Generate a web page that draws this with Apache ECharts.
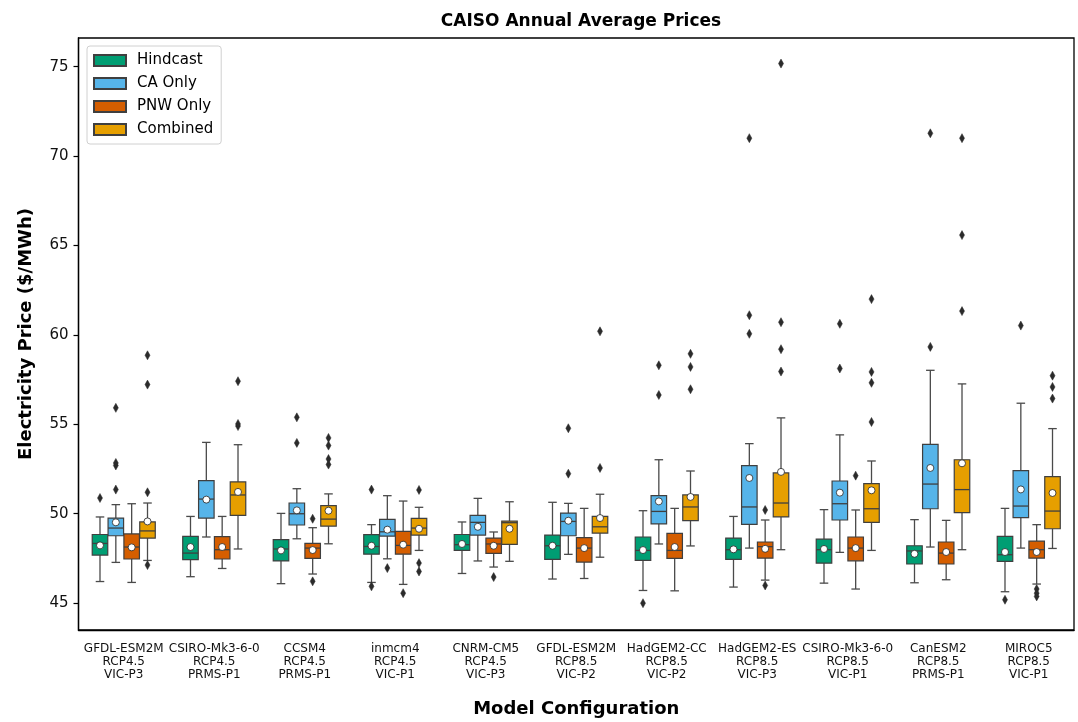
<!DOCTYPE html>
<html>
<head>
<meta charset="utf-8">
<script src="https://cdn.jsdelivr.net/npm/echarts@6/dist/echarts.min.js"></script>
<style>
html,body{margin:0;padding:0;background:#fff;}
#chart{width:1078px;height:722px;}
</style>
</head>
<body>
<div id="chart"></div>
<script>
// ---------------- DATA ----------------
const categories = [
  'GFDL-ESM2M\nRCP4.5\nVIC-P3', 'CSIRO-Mk3-6-0\nRCP4.5\nPRMS-P1', 'CCSM4\nRCP4.5\nPRMS-P1',
  'inmcm4\nRCP4.5\nVIC-P1', 'CNRM-CM5\nRCP4.5\nVIC-P3', 'GFDL-ESM2M\nRCP8.5\nVIC-P2',
  'HadGEM2-CC\nRCP8.5\nVIC-P2', 'HadGEM2-ES\nRCP8.5\nVIC-P3', 'CSIRO-Mk3-6-0\nRCP8.5\nVIC-P1',
  'CanESM2\nRCP8.5\nPRMS-P1', 'MIROC5\nRCP8.5\nVIC-P1'
];
const seriesNames = ['Hindcast', 'CA Only', 'PNW Only', 'Combined'];
const yTicks = [45, 50, 55, 60, 65, 70, 75];

// [lower whisker, Q1, median, Q3, upper whisker]
const hindcastStats = [
  [46.21, 47.69, 48.34, 48.84, 49.82], [46.48, 47.43, 47.80, 48.73, 49.85], [46.09, 47.36, 48.03, 48.55, 50.02],
  [46.16, 47.74, 48.17, 48.83, 49.39], [46.66, 47.95, 48.27, 48.84, 49.54], [46.35, 47.45, 48.21, 48.81, 50.64],
  [45.71, 47.39, 47.95, 48.70, 50.17], [45.90, 47.45, 47.99, 48.64, 49.85], [46.12, 47.24, 47.99, 48.58, 50.23],
  [46.14, 47.19, 47.92, 48.21, 49.67], [45.64, 47.34, 47.71, 48.73, 50.30]
];
const hindcastMeans = [48.23, 48.14, 47.95, 48.21, 48.31, 48.21, 47.97, 48.01, 48.03, 47.76, 47.86];
const hindcastOutliers = [[0, 50.88], [3, 51.35], [3, 45.94], [6, 45.0], [10, 45.19]];

const caStats = [
  [47.28, 48.77, 49.20, 49.76, 50.51], [48.70, 49.76, 50.82, 51.85, 53.99], [48.60, 49.37, 50.00, 50.60, 51.40],
  [47.48, 48.75, 48.99, 49.69, 51.01], [47.36, 48.81, 49.52, 49.91, 50.86], [47.73, 48.77, 49.57, 50.04, 50.58],
  [48.31, 49.43, 50.13, 51.01, 53.02], [48.08, 49.41, 50.38, 52.69, 53.92], [47.84, 49.65, 50.56, 51.83, 54.41],
  [48.14, 50.28, 51.66, 53.88, 58.02], [48.08, 49.78, 50.43, 52.41, 56.18]
];
const caMeans = [49.52, 50.79, 50.19, 49.11, 49.27, 49.61, 50.69, 52.00, 51.18, 52.56, 51.36];
const caOutliers = [[0, 51.35], [0, 52.70], [0, 52.84], [0, 55.92], [2, 53.96], [2, 55.39], [3, 46.96],
  [5, 52.24], [5, 54.78], [6, 56.64], [6, 58.30], [7, 60.06], [7, 61.10], [7, 71.00],
  [8, 58.12], [8, 60.62], [9, 59.33], [9, 71.27], [10, 60.52]];

const pnwStats = [
  [46.16, 47.47, 48.14, 48.87, 50.56], [46.94, 47.47, 47.99, 48.72, 49.85], [46.63, 47.50, 48.08, 48.34, 49.22],
  [46.05, 47.74, 48.23, 49.01, 50.71], [47.02, 47.78, 48.31, 48.64, 48.98], [46.38, 47.30, 48.08, 48.66, 50.30],
  [45.69, 47.50, 47.95, 48.90, 50.30], [46.29, 47.52, 48.16, 48.42, 49.65], [45.79, 47.37, 48.08, 48.70, 50.21],
  [46.31, 47.19, 47.80, 48.42, 49.63], [46.07, 47.52, 47.99, 48.47, 49.39]
];
const pnwMeans = [48.12, 48.14, 47.97, 48.27, 48.21, 48.08, 48.14, 48.04, 48.08, 47.86, 47.86];
const pnwOutliers = [[2, 49.72], [2, 46.22], [3, 45.56], [4, 46.46], [7, 50.21], [7, 45.99], [8, 52.13],
  [10, 45.79], [10, 45.56], [10, 45.38]];

const combinedStats = [
  [47.39, 48.64, 49.04, 49.54, 50.60], [48.03, 49.91, 51.05, 51.78, 53.86], [48.32, 49.31, 49.70, 50.45, 51.11],
  [47.95, 48.81, 49.20, 49.74, 50.36], [47.34, 48.29, 49.50, 49.59, 50.67], [47.57, 48.92, 49.27, 49.85, 51.09],
  [48.20, 49.61, 50.38, 51.05, 52.39], [47.99, 49.82, 50.60, 52.28, 55.36], [47.95, 49.52, 50.28, 51.68, 52.95],
  [47.99, 50.06, 51.35, 53.02, 57.26], [48.06, 49.16, 50.15, 52.07, 54.76]
];
const combinedMeans = [49.57, 51.22, 50.17, 49.16, 49.16, 49.76, 50.94, 52.34, 51.31, 52.82, 51.16];
const combinedOutliers = [[0, 51.20], [0, 57.22], [0, 58.86], [0, 47.13], [1, 54.90], [1, 55.02], [1, 57.41],
  [2, 52.75], [2, 53.06], [2, 53.81], [2, 54.24], [3, 51.33], [3, 47.24], [3, 46.77],
  [5, 52.56], [5, 60.20], [6, 56.96], [6, 58.21], [6, 58.94], [7, 57.95], [7, 59.20], [7, 60.71], [7, 75.17],
  [8, 55.13], [8, 57.32], [8, 57.93], [8, 62.00], [9, 61.33], [9, 65.58], [9, 71.00],
  [10, 56.44], [10, 57.09], [10, 57.72]];

// ---------------- STYLE ----------------
const colors = ['#009E73', '#56B4E9', '#D55E00', '#E69F00'];
const edgeColor = '#3f3f3f';
const FONT = 'DejaVu Sans';

const statsList = [hindcastStats, caStats, pnwStats, combinedStats];
const meansList = [hindcastMeans, caMeans, pnwMeans, combinedMeans];
const outlierList = [hindcastOutliers, caOutliers, pnwOutliers, combinedOutliers];

function groupOffset(k, band) {
  const step = band * 0.7 / 4;
  return { off: (k - 1.5) * step, step: step };
}

function makeBoxRender(k) {
  return function (params, api) {
    const ci = api.value(0);
    const band = api.size([1, 0])[0];
    const g = groupOffset(k, band);
    const cx = api.coord([ci, 0])[0] + g.off;
    const yLo = api.coord([ci, api.value(1)])[1];
    const yQ1 = api.coord([ci, api.value(2)])[1];
    const yMed = api.coord([ci, api.value(3)])[1];
    const yQ3 = api.coord([ci, api.value(4)])[1];
    const yHi = api.coord([ci, api.value(5)])[1];
    const yMean = api.coord([ci, api.value(6)])[1];
    const half = g.step * 0.98 / 2;
    const cap = g.step * 0.27;
    const lineStyle = { stroke: '#4a4a4a', lineWidth: 1.3 };
    return {
      type: 'group',
      children: [
        { type: 'line', shape: { x1: cx, y1: yLo, x2: cx, y2: yQ1 }, style: lineStyle },
        { type: 'line', shape: { x1: cx, y1: yQ3, x2: cx, y2: yHi }, style: lineStyle },
        { type: 'line', shape: { x1: cx - cap, y1: yLo, x2: cx + cap, y2: yLo }, style: lineStyle },
        { type: 'line', shape: { x1: cx - cap, y1: yHi, x2: cx + cap, y2: yHi }, style: lineStyle },
        { type: 'rect', shape: { x: cx - half, y: yQ3, width: half * 2, height: yQ1 - yQ3 },
          style: { fill: colors[k], stroke: edgeColor, lineWidth: 1.2 } },
        { type: 'line', shape: { x1: cx - half, y1: yMed, x2: cx + half, y2: yMed }, style: { stroke: edgeColor, lineWidth: 1.3 } },
        { type: 'circle', shape: { cx: cx, cy: yMean, r: 3.5 },
          style: { fill: '#ffffff', stroke: '#222', lineWidth: 0.8 } }
      ]
    };
  };
}

function makeOutlierRender(k) {
  return function (params, api) {
    const ci = api.value(0);
    const band = api.size([1, 0])[0];
    const g = groupOffset(k, band);
    const p = api.coord([ci, api.value(1)]);
    const cx = p[0] + g.off, cy = p[1];
    const w = 2.5, h = 4.5;
    return {
      type: 'polygon',
      shape: { points: [[cx, cy - h], [cx + w, cy], [cx, cy + h], [cx - w, cy]] },
      style: { fill: '#2b2b2b', stroke: '#2b2b2b', lineWidth: 0.5 }
    };
  };
}

const series = [];
seriesNames.forEach(function (name, k) {
  const data = statsList[k].map(function (s, i) {
    return [i, s[0], s[1], s[2], s[3], s[4], meansList[k][i]];
  });
  series.push({
    name: name,
    type: 'custom',
    renderItem: makeBoxRender(k),
    itemStyle: { color: colors[k], borderColor: edgeColor, borderWidth: 1 },
    encode: { x: 0, y: [1, 2, 3, 4, 5, 6] },
    data: data,
    z: 3
  });
});
seriesNames.forEach(function (name, k) {
  series.push({
    name: name + ' outliers',
    type: 'custom',
    renderItem: makeOutlierRender(k),
    encode: { x: 0, y: 1 },
    data: outlierList[k],
    z: 4
  });
});

const chart = echarts.init(document.getElementById('chart'), null, { renderer: 'canvas' });
chart.setOption({
  animation: false,
  backgroundColor: '#ffffff',
  textStyle: { fontFamily: FONT },
  title: {
    text: 'CAISO Annual Average Prices',
    left: 576, top: 8, textAlign: 'center',
    textStyle: { fontFamily: FONT, fontWeight: 'bold', fontSize: 17, color: '#000' }
  },
  legend: {
    data: seriesNames,
    orient: 'vertical',
    left: 87, top: 46,
    icon: 'rect',
    itemWidth: 32, itemHeight: 11,
    itemGap: 6,
    padding: [6, 8, 6, 6],
    backgroundColor: '#fff',
    borderColor: '#d0d0d0', borderWidth: 1, borderRadius: 3,
    textStyle: { fontFamily: FONT, fontSize: 15, color: '#000', lineHeight: 17, padding: [0, 0, 0, 6] }
  },
  grid: {
    left: 78.5, right: 4, top: 38, bottom: 92,
    containLabel: false,
    outerBoundsMode: 'none',
    show: true, borderColor: '#000', borderWidth: 1.3, backgroundColor: 'transparent'
  },
  xAxis: {
    type: 'category',
    data: categories,
    name: 'Model Configuration',
    nameLocation: 'middle',
    nameGap: 70,
    nameTextStyle: { fontFamily: FONT, fontWeight: 'bold', fontSize: 18, color: '#000' },
    axisLine: { lineStyle: { color: '#000', width: 1.3 } },
    axisTick: { alignWithLabel: true, length: 5, lineStyle: { color: '#000', width: 1.2 } },
    axisLabel: { fontFamily: FONT, fontSize: 12, lineHeight: 13, color: '#111', margin: 12, interval: 0 },
    splitLine: { show: false }
  },
  yAxis: {
    type: 'value',
    min: 43.5, max: 76.6,
    splitNumber: 7,
    name: 'Electricity Price ($/MWh)',
    nameLocation: 'middle',
    nameGap: 43,
    nameTextStyle: { fontFamily: FONT, fontWeight: 'bold', fontSize: 18, color: '#000' },
    axisLine: { show: true, lineStyle: { color: '#000', width: 1.3 } },
    axisTick: { show: true, length: 5, lineStyle: { color: '#000', width: 1.2 } },
    axisLabel: {
      fontFamily: FONT, fontSize: 15, color: '#111', margin: 10,
      showMinLabel: false, showMaxLabel: false,
      formatter: function (v) { return yTicks.indexOf(v) >= 0 ? String(v) : ''; }
    },
    splitLine: { show: false }
  },
  series: series
});
</script>
</body>
</html>
